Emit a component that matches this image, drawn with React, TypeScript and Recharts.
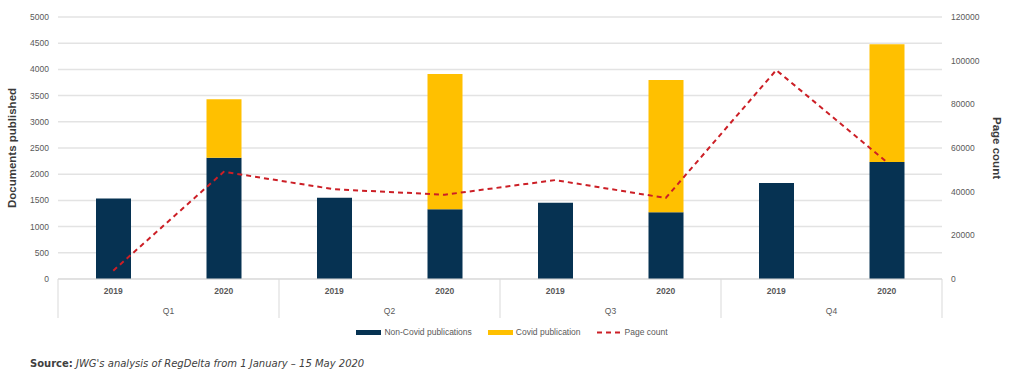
import {
  ComposedChart,
  Bar,
  Line,
  XAxis,
  YAxis,
  CartesianGrid,
  Legend,
} from "recharts";

const quarters = ["Q1", "Q2", "Q3", "Q4"];
const years = ["2019", "2020", "2019", "2020", "2019", "2020", "2019", "2020"];
const nonCovid = [1535, 2315, 1552, 1330, 1456, 1273, 1832, 2233];
const covid = [0, 1114, 0, 2582, 0, 2525, 0, 2245];
const pageCount = [3800, 49100, 41100, 38600, 45300, 37100, 95700, 53600];
const leftTicks = [0, 500, 1000, 1500, 2000, 2500, 3000, 3500, 4000, 4500, 5000];
const rightTicks = [0, 20000, 40000, 60000, 80000, 100000, 120000];

const NAVY = "#063252";
const YELLOW = "#ffc000";
const RED = "#cc1f26";
const FONT = "'Liberation Sans', Arial, sans-serif";

const chartData = years.map((year, i) => ({
  key: quarters[Math.floor(i / 2)] + " " + year,
  year,
  nonCovid: nonCovid[i],
  covid: covid[i],
  pageCount: pageCount[i],
}));

const YearTick = (props: any) => {
  const { x, y, payload, index } = props;
  const half = payload.offset || 55;
  const year = years[index];
  return (
    <g>
      <text x={x} y={y + 15} textAnchor="middle" fontSize={8.5} fontWeight={600} fill="#595959" fontFamily={FONT}>
        {year}
      </text>
      {index % 2 === 1 && (
        <text x={x - half} y={y + 35} textAnchor="middle" fontSize={8.5} fill="#595959" fontFamily={FONT}>
          {quarters[Math.floor(index / 2)]}
        </text>
      )}
      {index === 0 && <line x1={x - half} x2={x - half} y1={y} y2={y + 39} stroke="#d9d9d9" />}
      {index % 2 === 1 && <line x1={x + half} x2={x + half} y1={y} y2={y + 39} stroke="#d9d9d9" />}
    </g>
  );
};

const LegendContent = () => {
  const items = [
    { name: "Non-Covid publications", color: NAVY, dashed: false },
    { name: "Covid publication", color: YELLOW, dashed: false },
    { name: "Page count", color: RED, dashed: true },
  ];
  return (
    <div style={{ display: "flex", justifyContent: "center", alignItems: "center", height: 20, fontFamily: FONT, fontSize: 8.5, color: "#595959" }}>
      {items.map((it) => (
        <div key={it.name} style={{ display: "flex", alignItems: "center", margin: "0 8px" }}>
          <svg width={25} height={5} style={{ marginRight: 3 }}>
            {it.dashed ? (
              <line x1={0} x2={25} y1={2.5} y2={2.5} stroke={it.color} strokeWidth={2} strokeDasharray="5 4" />
            ) : (
              <rect x={0} y={0} width={25} height={5} fill={it.color} />
            )}
          </svg>
          <span>{it.name}</span>
        </div>
      ))}
    </div>
  );
};

export default function App() {
  return (
    <div style={{ position: "absolute", left: 0, top: 0, width: 1024, height: 386, background: "#fff" }}>
      <ComposedChart
        width={1024}
        height={386}
        data={chartData}
        margin={{ top: 17, right: 0, left: 0, bottom: 44 }}
      >
        <CartesianGrid yAxisId="left" vertical={false} stroke="#e3e3e3" strokeWidth={1.5} />
        <XAxis
          dataKey="key"
          height={43}
          interval={0}
          axisLine={{ stroke: "#d9d9d9" }}
          tickLine={false}
          tickSize={0}
          tickMargin={0}
          tick={<YearTick />}
        />
        <YAxis
          yAxisId="left"
          orientation="left"
          width={58}
          domain={[0, 5000]}
          ticks={leftTicks}
          interval={0}
          axisLine={false}
          tickLine={false}
          tickMargin={3}
          tick={{ fontSize: 8.5, fill: "#595959", fontFamily: FONT }}
          label={{
            value: "Documents published",
            angle: -90,
            position: "insideLeft",
            offset: 12,
            style: { textAnchor: "middle", fontSize: 11.5, fontWeight: 700, fill: "#3a3a3a", fontFamily: FONT },
          }}
        />
        <YAxis
          yAxisId="right"
          orientation="right"
          width={82}
          domain={[0, 120000]}
          ticks={rightTicks}
          interval={0}
          axisLine={false}
          tickLine={false}
          tickMargin={3}
          tick={{ fontSize: 8.5, fill: "#595959", fontFamily: FONT, textAnchor: "start" }}
          label={{
            value: "Page count",
            angle: 90,
            position: "insideRight",
            offset: 27,
            style: { textAnchor: "middle", fontSize: 11.5, fontWeight: 700, fill: "#3a3a3a", fontFamily: FONT },
          }}
        />
        <Legend verticalAlign="bottom" height={20} content={<LegendContent />} />
        <Bar yAxisId="left" dataKey="nonCovid" name="Non-Covid publications" stackId="a" fill={NAVY} barSize={35} isAnimationActive={false} />
        <Bar yAxisId="left" dataKey="covid" name="Covid publication" stackId="a" fill={YELLOW} barSize={35} isAnimationActive={false} />
        <Line
          yAxisId="right"
          type="linear"
          dataKey="pageCount"
          name="Page count"
          stroke={RED}
          strokeWidth={2}
          strokeDasharray="5 4"
          dot={false}
          activeDot={false}
          isAnimationActive={false}
        />
      </ComposedChart>
      <div
        style={{
          position: "absolute",
          left: 30,
          top: 358,
          fontFamily: "'DejaVu Sans', sans-serif",
          fontSize: 10,
          color: "#404040",
        }}
      >
        <b>Source:</b> <i>JWG's analysis of RegDelta from 1 January – 15 May 2020</i>
      </div>
    </div>
  );
}
